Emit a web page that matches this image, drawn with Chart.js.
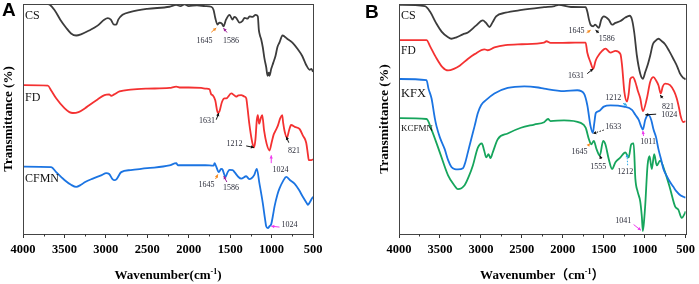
<!DOCTYPE html>
<html lang="en">
<head>
<meta charset="UTF-8">
<title>FTIR spectra</title>
<script src="https://cdn.jsdelivr.net/npm/chart.js"></script>
<style>
  body { margin: 0; background: #fff; }
  .panel { position: absolute; top: 0; }
</style>
</head>
<body>
<div class="panel" style="left:0"><canvas id="chartA" width="349" height="284"></canvas></div>
<div class="panel" style="left:349px"><canvas id="chartB" width="350" height="284"></canvas></div>
<script>
// ---- panel A : CS, FD, CFMN ----
const aCsWn = [4000,3700,3680,3620,3550,3480,3420,3358,3300,3200,3100,3020,2976,2940,2900,2875,2850,2799,2700,2500,2232,2150,2100,2050,2000,1900,1800,1728,1700,1680,1652,1630,1600,1580,1550,1507,1471,1450,1427,1387,1350,1326,1290,1266,1230,1193,1166,1154,1140,1125,1106,1085,1065,1048,1033,1025,1004,980,952,930,904,868,844,815,783,740,683,630,582,540,520,500];
const aCsT  = [100,100,99.8,97.4,93.2,89.7,87.2,86.3,86.8,88.5,90.6,93.2,93.9,93.2,91.0,91.0,93.2,95.3,96.6,97.9,98.8,99.6,99.1,99.8,99.1,99.4,99.1,98.8,97.4,94.0,91.0,91.9,91.5,90.3,93.2,95.3,93.2,94.4,94.0,91.9,92.7,94.0,93.6,94.6,94.4,95.3,94.6,88.9,86.3,84.6,81.2,76.1,72.6,68.8,70.1,68.8,71.8,74.4,77.5,81.2,83.3,86.3,85.9,85.0,84.2,82.9,80.3,77.4,73.5,71.4,71.8,70.5];

const aFdWn = [4000,3700,3660,3600,3500,3440,3399,3330,3250,3197,3100,3016,2960,2935,2900,2835,2700,2500,2232,2151,2100,2000,1850,1789,1749,1728,1709,1680,1648,1628,1600,1568,1547,1487,1450,1427,1400,1366,1330,1306,1290,1270,1250,1230,1212,1195,1178,1166,1150,1130,1113,1090,1060,1025,1000,975,952,925,895,872,860,844,815,790,765,720,663,620,582,560,551,520,500];
const aFdT  = [64.7,64.5,62.4,59.0,54.7,53.0,52.6,53.0,54.7,56.1,58.5,60.4,60.7,60.1,60.7,62.0,62.8,63.2,63.5,64.1,63.7,63.7,63.5,63.2,62.9,60.7,60.3,58.1,52.6,53.4,57.3,59.0,59.0,61.1,60.3,59.7,60.3,60.4,59.8,59.0,54.7,48.3,43.2,39.3,37.6,41.0,49.6,51.7,47.9,50.4,51.7,44.9,39.3,36.3,39.7,43.2,44.9,47.0,50.4,51.7,48.3,44.9,41.9,44.9,47.4,46.6,45.7,42.7,39.7,34.2,32.1,32.1,32.5];

const aCfmnWn = [4000,3660,3600,3500,3420,3358,3300,3250,3157,3050,2996,2960,2920,2896,2870,2815,2700,2500,2232,2151,2130,2000,1800,1700,1688,1670,1637,1610,1596,1556,1530,1507,1470,1447,1400,1366,1306,1270,1246,1210,1178,1146,1106,1080,1065,1045,1024,1004,985,964,930,904,860,823,780,723,670,623,580,562,540,520,500];
const aCfmnT  = [29.3,29.1,26.9,23.5,21.4,20.5,21.4,22.6,24.1,25.6,26.5,26.1,23.9,23.4,23.9,26.9,27.8,28.6,29.8,30.8,29.9,29.9,29.9,29.7,30.8,29.5,26.9,28.3,28.2,24.8,26.9,27.9,27.8,26.9,24.8,24.1,25.1,23.9,24.1,25.6,28.3,21.9,13.4,6.8,3.4,2.6,3.4,4.3,7.7,12.0,17.1,19.8,23.1,24.8,23.5,21.9,19.2,16.2,13.7,12.7,13.7,15.0,16.2];

// ---- panel B : CS, FD, KFX, KCFMN ----
const bCsWn = [4000,3684,3620,3550,3480,3400,3360,3300,3220,3159,3060,2977,2940,2895,2860,2814,2700,2500,2228,2100,2050,1900,1721,1700,1680,1661,1629,1605,1560,1530,1499,1439,1398,1357,1296,1236,1183,1155,1127,1095,1054,1022,993,960,933,900,872,832,790,751,700,649,600,568,530,508,500];
const bCsT  = [99.6,99.1,96.6,91.9,88.0,85.5,84.9,85.5,86.8,87.6,90.6,92.9,91.9,90.0,91.9,94.6,96.2,97.4,98.6,99.1,99.6,98.7,98.6,96.6,93.2,91.0,90.3,91.0,89.6,93.2,94.6,93.2,91.0,91.8,92.6,94.1,94.9,93.2,87.5,77.5,69.7,67.5,70.4,73.9,77.5,82.5,83.9,84.9,83.8,82.5,79.5,76.1,72.6,69.7,67.9,67.5,67.1];

const bFdWn = [4000,3664,3620,3550,3470,3401,3330,3259,3160,3077,2956,2916,2835,2700,2500,2228,2200,2150,2000,1850,1721,1701,1661,1629,1600,1580,1520,1479,1418,1357,1296,1276,1248,1216,1195,1175,1143,1114,1085,1054,1022,973,933,892,860,832,803,780,751,690,640,609,580,561,530,500];
const bFdT  = [84.3,84.3,81.6,76.9,72.6,71.1,71.8,73.2,76.1,78.2,80.3,79.9,81.1,82.1,82.5,83.2,83.8,83.1,83.1,83.2,83.2,78.9,74.6,71.8,75.2,76.8,79.6,80.6,78.9,79.6,78.2,73.2,61.8,57.6,61.1,67.5,68.2,66.1,62.4,59.0,53.4,59.0,66.1,68.2,66.7,64.7,61.1,64.1,65.4,64.7,62.0,59.0,54.7,51.3,48.7,49.1];

const bKfxWn = [4000,3664,3640,3603,3563,3542,3500,3442,3400,3360,3320,3280,3219,3190,3159,3120,3077,3037,2996,2935,2835,2673,2470,2300,2228,1985,1823,1742,1701,1661,1633,1615,1597,1560,1499,1418,1256,1155,1114,1074,1045,1022,993,953,920,892,860,832,800,771,730,690,650,609,560,528,500];
const bKfxT  = [67.4,66.9,63.2,59.0,50.4,46.9,41.9,36.9,32.1,29.1,28.2,28.1,28.6,31.2,35.5,41.0,46.9,52.6,56.1,58.3,61.1,63.5,64.2,63.7,63.2,62.1,62.5,61.1,56.1,46.9,44.0,48.3,52.6,53.4,55.4,55.9,55.4,54.0,51.8,49.7,46.9,45.4,49.7,51.8,49.6,45.4,41.9,36.9,32.5,28.3,25.2,22.6,20.5,18.4,16.7,16.2,15.8];

const bKcfmnWn = [4000,3664,3603,3502,3401,3330,3280,3199,3150,3098,3037,2989,2960,2935,2907,2883,2855,2794,2673,2511,2349,2228,2180,2150,1985,1782,1721,1681,1653,1621,1588,1548,1507,1480,1439,1398,1357,1296,1236,1196,1164,1135,1114,1086,1054,1035,1022,1005,993,965,941,913,884,852,812,751,690,629,589,548,508,500];
const bKcfmnT  = [50.4,50.0,45.4,35.5,25.5,21.4,19.5,21.2,24.8,29.8,37.6,39.4,36.3,33.3,34.7,33.0,35.5,41.2,43.7,46.2,47.6,48.6,50.0,49.1,49.4,48.3,46.2,41.2,39.0,40.5,36.9,34.1,40.5,39.0,32.6,28.3,31.2,33.3,35.5,33.3,39.0,39.4,24.1,18.4,14.1,7.7,1.3,6.8,12.7,29.8,33.8,28.3,34.7,29.8,31.9,26.9,19.8,12.0,10.6,7.0,9.1,9.8];

const xTicks = [4000, 3500, 3000, 2500, 2000, 1500, 1000, 500];

const SERIF = "'Liberation Serif', 'Times New Roman', serif";
const GREY = '#3c3c3c', RED = '#f43131', BLUE = '#1b74e2', GREEN = '#16a55c';
const ORANGE = '#f58a1f', PURPLE = '#9c1f98', PINK = '#ee3cee', CYAN = '#2aa8e8', DARK = '#111';

// peak labels: text at (x, y) in data units, arrow from -> to
const notesA = [
  {t:'1645', x:1809, y:83.8, from:[1728,87.7], to:[1668,89.6], c:ORANGE},
  {t:'1586', x:1489, y:83.8, from:[1538,87.6], to:[1580,89.5], c:PURPLE},
  {t:'1631', x:1779, y:49.1, from:[1668,49.7], to:[1637,52.6], c:DARK},
  {t:'1212', x:1447, y:39.3, from:[1306,38.3], to:[1212,37.6], c:DARK},
  {t:'821',  x:729,  y:36.3, from:[792,39.7],  to:[823,42.3],  c:DARK},
  {t:'1024', x:892,  y:27.8, from:[1004,30.8], to:[1004,34.2], c:PINK},
  {t:'1645', x:1785, y:21.4, from:[1676,23.9], to:[1649,25.9], c:ORANGE},
  {t:'1586', x:1489, y:20.1, from:[1540,22.6], to:[1577,25.2], c:PURPLE},
  {t:'1024', x:783,  y:3.8,  from:[904,3.0],   to:[1004,3.4],  c:PINK}
];
const notesB = [
  {t:'1645', x:1833, y:88.5, from:[1709,87.5], to:[1661,88.6], c:ORANGE},
  {t:'1586', x:1463, y:85.0, from:[1560,87.5], to:[1600,88.6], c:DARK},
  {t:'1631', x:1839, y:68.7, from:[1702,69.7], to:[1629,71.8], c:DARK},
  {t:'1212', x:1384, y:59.0, from:[1265,56.8], to:[1216,55.9], c:CYAN},
  {t:'821',  x:716,  y:55.1, from:[779,59.0],  to:[811,60.4],  c:DARK},
  {t:'1024', x:700,  y:51.6, from:[860,52.1],  to:[993,51.8],  c:DARK},
  {t:'1633', x:1384, y:46.6, from:[1499,45.2], to:[1629,43.7], c:DARK, dash:true},
  {t:'1011', x:959,  y:40.2, from:[1014,42.6], to:[1022,44.8], c:PINK},
  {t:'1645', x:1797, y:35.9, from:[1693,38.3], to:[1669,39.4], c:ORANGE},
  {t:'1555', x:1566, y:29.1, from:[1531,32.6], to:[1548,34.1], c:DARK},
  {t:'1212', x:1238, y:26.9, from:[1208,29.9], to:[1216,34.7], c:CYAN, dash:true},
  {t:'1041', x:1262, y:5.6,  from:[1135,4.1],  to:[1046,1.6],  c:PINK}
];

function arrow(ctx, x1, y1, x2, y2, color, dash) {
  ctx.save();
  ctx.strokeStyle = color; ctx.fillStyle = color; ctx.lineWidth = 1;
  if (dash) ctx.setLineDash([1.5, 1.5]);
  ctx.beginPath(); ctx.moveTo(x1, y1); ctx.lineTo(x2, y2); ctx.stroke();
  ctx.setLineDash([]);
  const a = Math.atan2(y2 - y1, x2 - x1), h = 3.5;
  ctx.beginPath();
  ctx.moveTo(x2, y2);
  ctx.lineTo(x2 - h * Math.cos(a - 0.5), y2 - h * Math.sin(a - 0.5));
  ctx.lineTo(x2 - h * Math.cos(a + 0.5), y2 - h * Math.sin(a + 0.5));
  ctx.closePath(); ctx.fill();
  ctx.restore();
}

function decorPlugin(d) {
  return {
    id: 'decor',
    afterDraw(chart) {
      const ctx = chart.ctx;
      const {left, right, top, bottom} = chart.chartArea;
      const x = chart.scales.x, y = chart.scales.y;
      ctx.save();
      // frame
      ctx.strokeStyle = '#444'; ctx.lineWidth = 1;
      ctx.strokeRect(Math.round(left) + 0.5, Math.round(top) + 0.5, Math.round(right - left), Math.round(bottom - top));
      // minor ticks
      ctx.strokeStyle = '#333';
      for (let v = 750; v < 4000; v += 500) {
        const px = Math.round(x.getPixelForValue(v)) + 0.5;
        ctx.beginPath(); ctx.moveTo(px, bottom); ctx.lineTo(px, bottom + 2.5); ctx.stroke();
      }
      // curve names
      ctx.fillStyle = '#111'; ctx.textAlign = 'left'; ctx.textBaseline = 'middle';
      d.names.forEach(n => {
        ctx.font = n.size + 'px ' + SERIF;
        ctx.fillText(n.t, left + 2, y.getPixelForValue(n.y));
      });
      // peak notes
      ctx.font = '8px ' + SERIF; ctx.textAlign = 'center'; ctx.fillStyle = '#2b2d3a';
      d.notes.forEach(n => {
        ctx.fillText(n.t, x.getPixelForValue(n.x), y.getPixelForValue(n.y));
        arrow(ctx, x.getPixelForValue(n.from[0]), y.getPixelForValue(n.from[1]),
              x.getPixelForValue(n.to[0]), y.getPixelForValue(n.to[1]), n.c, n.dash);
      });
      // y title
      ctx.fillStyle = '#000';
      ctx.save();
      ctx.translate(d.yTitleX, (top + bottom) / 2);
      ctx.rotate(-Math.PI / 2);
      ctx.font = 'bold ' + d.yTitleSize + 'px ' + SERIF;
      ctx.textAlign = 'center'; ctx.textBaseline = 'middle';
      ctx.fillText('Transmittance (%)', 0, 0);
      ctx.restore();
      // x title with superscript
      const main = "bold 13px " + SERIF + ", 'Noto Sans CJK SC'";
      const sup = 'bold 8px ' + SERIF;
      ctx.textAlign = 'left'; ctx.textBaseline = 'alphabetic';
      ctx.font = main; const w1 = ctx.measureText(d.xMain).width, w3 = ctx.measureText(d.xClose).width;
      ctx.font = sup; const w2 = ctx.measureText('-1').width;
      let sx = (left + right) / 2 - (w1 + w2 + w3) / 2;
      const base = 279;
      ctx.font = main; ctx.fillText(d.xMain, sx, base);
      ctx.font = sup; ctx.fillText('-1', sx + w1, base - 5);
      ctx.font = main; ctx.fillText(d.xClose, sx + w1 + w2, base);
      // panel letter
      ctx.font = "bold 19px 'Liberation Sans', Arial, sans-serif";
      ctx.fillText(d.letter, d.letterX, d.letterY);
      ctx.restore();
    }
  };
}

function buildChart(id, series, d) {
  const ctx = document.getElementById(id).getContext('2d');
  return new Chart(ctx, {
    type: 'line',
    data: {
      datasets: series.map(s => ({
        label: s.name,
        data: s.wn.map((w, i) => ({x: w, y: s.t[i]})),
        borderColor: s.color,
        borderWidth: 1.8,
        pointRadius: 0,
        cubicInterpolationMode: 'monotone',
        fill: false
      }))
    },
    options: {
      responsive: false,
      animation: false,
      layout: { padding: d.pad },
      plugins: { legend: { display: false }, tooltip: { enabled: false } },
      scales: {
        x: {
          type: 'linear', reverse: true, min: 500, max: 4000,
          afterBuildTicks: axis => { axis.ticks = xTicks.map(v => ({value: v})); },
          ticks: { autoSkip: false, maxRotation: 0, padding: 4, color: '#000',
                   callback: v => String(v),
                   font: { family: SERIF, size: 12.5, weight: 'bold' } },
          grid: { drawOnChartArea: false, drawTicks: true, tickLength: 4, tickColor: '#333' },
          border: { display: true, color: '#444' }
        },
        y: { display: false, min: 0, max: 100 }
      }
    },
    plugins: [decorPlugin(d)]
  });
}

buildChart('chartA', [
  {name: 'CS', wn: aCsWn, t: aCsT, color: GREY},
  {name: 'FD', wn: aFdWn, t: aFdT, color: RED},
  {name: 'CFMN', wn: aCfmnWn, t: aCfmnT, color: BLUE}
], {
  pad: {left: 23, right: 36, top: 4, bottom: 23},
  letter: 'A', letterX: 2, letterY: 16,
  yTitleX: 9, yTitleSize: 13,
  xMain: 'Wavenumber(cm', xClose: ')',
  names: [{t:'CS', y:94.9, size:12}, {t:'FD', y:59.0, size:12}, {t:'CFMN', y:23.9, size:12}],
  notes: notesA
});

buildChart('chartB', [
  {name: 'CS', wn: bCsWn, t: bCsT, color: GREY},
  {name: 'FD', wn: bFdWn, t: bFdT, color: RED},
  {name: 'KFX', wn: bKfxWn, t: bKfxT, color: BLUE},
  {name: 'KCFMN', wn: bKcfmnWn, t: bKcfmnT, color: GREEN}
], {
  pad: {left: 50, right: 12, top: 4, bottom: 23},
  letter: 'B', letterX: 16, letterY: 18,
  yTitleX: 36, yTitleSize: 13.5,
  xMain: 'Wavenumber\uFF08cm', xClose: '\uFF09',
  names: [{t:'CS', y:94.9, size:12}, {t:'FD', y:79.6, size:11.5}, {t:'KFX', y:61.1, size:12.5}, {t:'KCFMN', y:45.7, size:9}],
  notes: notesB
});
</script>
</body>
</html>
